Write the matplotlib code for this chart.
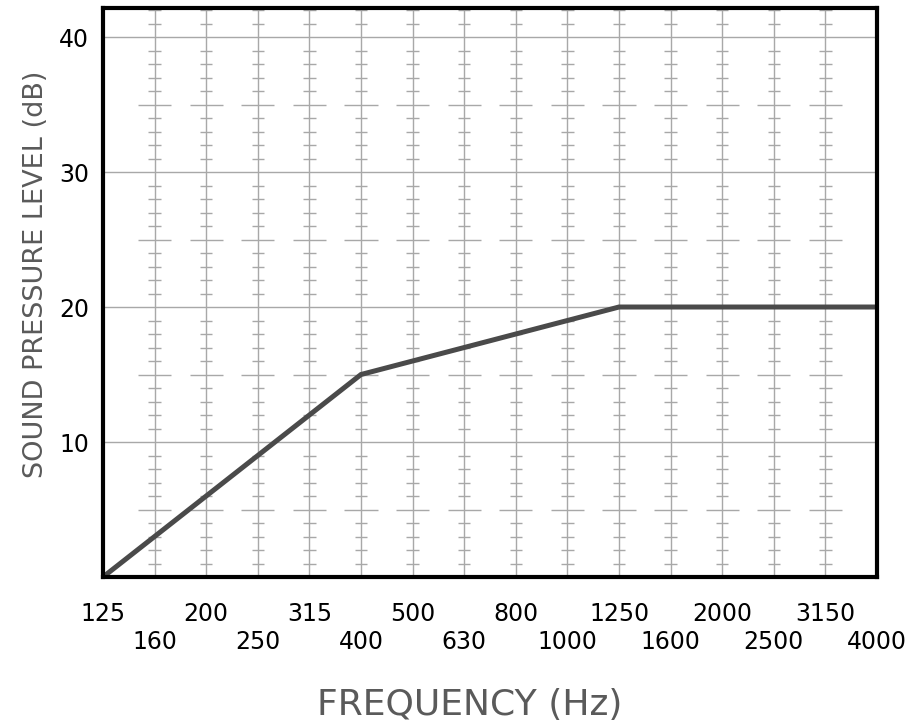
import matplotlib
matplotlib.use("Agg")
import matplotlib.pyplot as plt
import numpy as np

# Data
bands = [125, 160, 200, 250, 315, 400, 500, 630, 800, 1000,
         1250, 1600, 2000, 2500, 3150, 4000]
curve_freq = [125, 400, 1250, 4000]
curve_db = [0, 15, 20, 20]
y_ticks = [10, 20, 30, 40]

fig = plt.figure(figsize=(9.12, 7.28), dpi=100)
ax = fig.add_axes([103 / 912, 151 / 728, 774 / 912, 569 / 728])

idx = {f: i for i, f in enumerate(bands)}
x_curve = [idx[f] for f in curve_freq]

ax.set_xlim(0, len(bands) - 1)
ax.set_ylim(0, 42.15)

grid_c = "#a8a8a8"
# horizontal gridlines
for y in y_ticks:
    ax.axhline(y, color=grid_c, lw=1.0, zorder=1)
# vertical gridlines with small dB ticks
for i in range(1, len(bands) - 1):
    ax.axvline(i, color=grid_c, lw=1.0, zorder=1)
    for d in range(1, 43):
        if d % 10 == 0:
            continue
        half = 0.32 if d % 5 == 0 else 0.12
        ax.plot([i - half, i + half], [d, d], color=grid_c, lw=1.0, zorder=1,
                solid_capstyle="butt")

ax.plot(x_curve, curve_db, color="#4a4a4a", lw=3.6, zorder=3,
        solid_capstyle="butt", solid_joinstyle="miter")

for s in ax.spines.values():
    s.set_linewidth(3.0)
    s.set_color("black")
    s.set_zorder(4)

# x tick labels in two rows
major = list(range(0, len(bands), 2))
minor = list(range(1, len(bands), 2))
ax.set_xticks(major)
ax.set_xticklabels([str(bands[i]) for i in major])
ax.set_xticks(minor, minor=True)
ax.set_xticklabels([str(bands[i]) for i in minor], minor=True)
ax.tick_params(axis="x", which="major", length=0, pad=18, labelsize=17)
ax.tick_params(axis="x", which="minor", length=0, pad=38, labelsize=17)

ax.set_yticks(y_ticks)
ax.set_yticklabels([str(v) for v in y_ticks])
ax.tick_params(axis="y", length=0, pad=10, labelsize=17)

fig.text(470 / 912, 1 - 705 / 728, "FREQUENCY (Hz)", ha="center", va="center",
         fontsize=26, color="#5a5a5a")
fig.text(36 / 912, 1 - 274 / 728, "SOUND PRESSURE LEVEL (dB)", ha="center",
         va="center", rotation=90, fontsize=19.5, color="#5a5a5a")

fig.savefig("out.png", dpi=100)
